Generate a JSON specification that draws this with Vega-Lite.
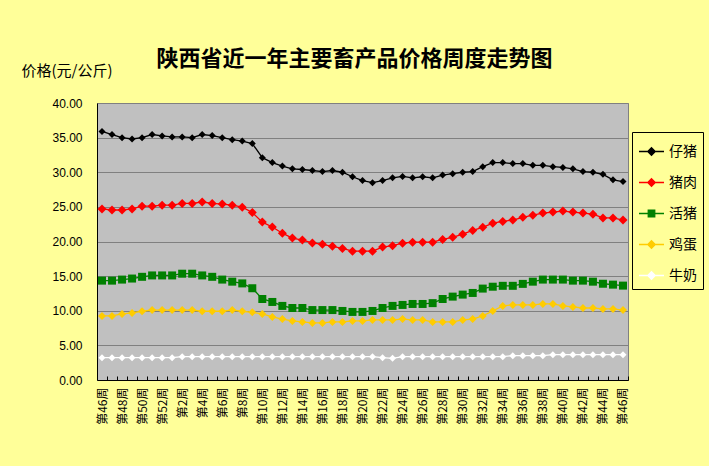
{
  "$schema": "https://vega.github.io/schema/vega-lite/v6.json",
  "autosize": "none",
  "width": 531,
  "height": 277,
  "padding": {"left": 97, "top": 103, "right": 81, "bottom": 86},
  "background": "#FFFF99",
  "config": {
    "font": "Noto Sans CJK SC",
    "view": {"fill": "#C0C0C0", "stroke": "#808080", "strokeWidth": 1}
  },
  "title": {
    "text": "陕西省近一年主要畜产品价格周度走势图",
    "fontSize": 22,
    "fontWeight": "bold",
    "color": "black",
    "anchor": "middle",
    "dx": -8,
    "offset": -8
  },
  "data": {
    "values": [
      {"idx":0,"product":"仔猪","price":35.9},{"idx":1,"product":"仔猪","price":35.45},{"idx":2,"product":"仔猪","price":35.0},{"idx":3,"product":"仔猪","price":34.8},{"idx":4,"product":"仔猪","price":35.0},{"idx":5,"product":"仔猪","price":35.45},{"idx":6,"product":"仔猪","price":35.25},{"idx":7,"product":"仔猪","price":35.1},{"idx":8,"product":"仔猪","price":35.1},{"idx":9,"product":"仔猪","price":35.0},{"idx":10,"product":"仔猪","price":35.45},{"idx":11,"product":"仔猪","price":35.3},{"idx":12,"product":"仔猪","price":35.0},{"idx":13,"product":"仔猪","price":34.7},{"idx":14,"product":"仔猪","price":34.5},{"idx":15,"product":"仔猪","price":34.15},{"idx":16,"product":"仔猪","price":32.1},{"idx":17,"product":"仔猪","price":31.4},{"idx":18,"product":"仔猪","price":30.9},{"idx":19,"product":"仔猪","price":30.5},{"idx":20,"product":"仔猪","price":30.4},{"idx":21,"product":"仔猪","price":30.25},{"idx":22,"product":"仔猪","price":30.1},{"idx":23,"product":"仔猪","price":30.25},{"idx":24,"product":"仔猪","price":30.0},{"idx":25,"product":"仔猪","price":29.35},{"idx":26,"product":"仔猪","price":28.8},{"idx":27,"product":"仔猪","price":28.5},{"idx":28,"product":"仔猪","price":28.8},{"idx":29,"product":"仔猪","price":29.2},{"idx":30,"product":"仔猪","price":29.4},{"idx":31,"product":"仔猪","price":29.2},{"idx":32,"product":"仔猪","price":29.35},{"idx":33,"product":"仔猪","price":29.2},{"idx":34,"product":"仔猪","price":29.6},{"idx":35,"product":"仔猪","price":29.8},{"idx":36,"product":"仔猪","price":30.0},{"idx":37,"product":"仔猪","price":30.1},{"idx":38,"product":"仔猪","price":30.8},{"idx":39,"product":"仔猪","price":31.4},{"idx":40,"product":"仔猪","price":31.4},{"idx":41,"product":"仔猪","price":31.25},{"idx":42,"product":"仔猪","price":31.25},{"idx":43,"product":"仔猪","price":31.0},{"idx":44,"product":"仔猪","price":31.0},{"idx":45,"product":"仔猪","price":30.8},{"idx":46,"product":"仔猪","price":30.7},{"idx":47,"product":"仔猪","price":30.5},{"idx":48,"product":"仔猪","price":30.1},{"idx":49,"product":"仔猪","price":30.0},{"idx":50,"product":"仔猪","price":29.7},{"idx":51,"product":"仔猪","price":28.9},{"idx":52,"product":"仔猪","price":28.65},
      {"idx":0,"product":"猪肉","price":24.7},{"idx":1,"product":"猪肉","price":24.55},{"idx":2,"product":"猪肉","price":24.55},{"idx":3,"product":"猪肉","price":24.7},{"idx":4,"product":"猪肉","price":25.1},{"idx":5,"product":"猪肉","price":25.1},{"idx":6,"product":"猪肉","price":25.25},{"idx":7,"product":"猪肉","price":25.25},{"idx":8,"product":"猪肉","price":25.5},{"idx":9,"product":"猪肉","price":25.5},{"idx":10,"product":"猪肉","price":25.7},{"idx":11,"product":"猪肉","price":25.5},{"idx":12,"product":"猪肉","price":25.4},{"idx":13,"product":"猪肉","price":25.25},{"idx":14,"product":"猪肉","price":24.95},{"idx":15,"product":"猪肉","price":24.2},{"idx":16,"product":"猪肉","price":22.8},{"idx":17,"product":"猪肉","price":22.1},{"idx":18,"product":"猪肉","price":21.2},{"idx":19,"product":"猪肉","price":20.5},{"idx":20,"product":"猪肉","price":20.2},{"idx":21,"product":"猪肉","price":19.8},{"idx":22,"product":"猪肉","price":19.6},{"idx":23,"product":"猪肉","price":19.3},{"idx":24,"product":"猪肉","price":19.0},{"idx":25,"product":"猪肉","price":18.6},{"idx":26,"product":"猪肉","price":18.6},{"idx":27,"product":"猪肉","price":18.6},{"idx":28,"product":"猪肉","price":19.2},{"idx":29,"product":"猪肉","price":19.4},{"idx":30,"product":"猪肉","price":19.75},{"idx":31,"product":"猪肉","price":19.9},{"idx":32,"product":"猪肉","price":19.9},{"idx":33,"product":"猪肉","price":19.9},{"idx":34,"product":"猪肉","price":20.3},{"idx":35,"product":"猪肉","price":20.6},{"idx":36,"product":"猪肉","price":21.05},{"idx":37,"product":"猪肉","price":21.6},{"idx":38,"product":"猪肉","price":22.05},{"idx":39,"product":"猪肉","price":22.65},{"idx":40,"product":"猪肉","price":22.9},{"idx":41,"product":"猪肉","price":23.1},{"idx":42,"product":"猪肉","price":23.5},{"idx":43,"product":"猪肉","price":23.8},{"idx":44,"product":"猪肉","price":24.1},{"idx":45,"product":"猪肉","price":24.25},{"idx":46,"product":"猪肉","price":24.4},{"idx":47,"product":"猪肉","price":24.25},{"idx":48,"product":"猪肉","price":24.1},{"idx":49,"product":"猪肉","price":23.95},{"idx":50,"product":"猪肉","price":23.4},{"idx":51,"product":"猪肉","price":23.4},{"idx":52,"product":"猪肉","price":23.1},
      {"idx":0,"product":"活猪","price":14.35},{"idx":1,"product":"活猪","price":14.35},{"idx":2,"product":"活猪","price":14.5},{"idx":3,"product":"活猪","price":14.65},{"idx":4,"product":"活猪","price":14.9},{"idx":5,"product":"活猪","price":15.1},{"idx":6,"product":"活猪","price":15.1},{"idx":7,"product":"活猪","price":15.1},{"idx":8,"product":"活猪","price":15.35},{"idx":9,"product":"活猪","price":15.35},{"idx":10,"product":"活猪","price":15.1},{"idx":11,"product":"活猪","price":14.9},{"idx":12,"product":"活猪","price":14.5},{"idx":13,"product":"活猪","price":14.2},{"idx":14,"product":"活猪","price":13.95},{"idx":15,"product":"活猪","price":13.25},{"idx":16,"product":"活猪","price":11.7},{"idx":17,"product":"活猪","price":11.27},{"idx":18,"product":"活猪","price":10.7},{"idx":19,"product":"活猪","price":10.4},{"idx":20,"product":"活猪","price":10.4},{"idx":21,"product":"活猪","price":10.1},{"idx":22,"product":"活猪","price":10.1},{"idx":23,"product":"活猪","price":10.1},{"idx":24,"product":"活猪","price":9.97},{"idx":25,"product":"活猪","price":9.83},{"idx":26,"product":"活猪","price":9.83},{"idx":27,"product":"活猪","price":9.97},{"idx":28,"product":"活猪","price":10.4},{"idx":29,"product":"活猪","price":10.7},{"idx":30,"product":"活猪","price":10.84},{"idx":31,"product":"活猪","price":10.98},{"idx":32,"product":"活猪","price":10.98},{"idx":33,"product":"活猪","price":11.1},{"idx":34,"product":"活猪","price":11.7},{"idx":35,"product":"活猪","price":12.04},{"idx":36,"product":"活猪","price":12.33},{"idx":37,"product":"活猪","price":12.57},{"idx":38,"product":"活猪","price":13.2},{"idx":39,"product":"活猪","price":13.47},{"idx":40,"product":"活猪","price":13.6},{"idx":41,"product":"活猪","price":13.6},{"idx":42,"product":"活猪","price":13.88},{"idx":43,"product":"活猪","price":14.2},{"idx":44,"product":"活猪","price":14.5},{"idx":45,"product":"活猪","price":14.5},{"idx":46,"product":"活猪","price":14.5},{"idx":47,"product":"活猪","price":14.35},{"idx":48,"product":"活猪","price":14.35},{"idx":49,"product":"活猪","price":14.2},{"idx":50,"product":"活猪","price":13.9},{"idx":51,"product":"活猪","price":13.77},{"idx":52,"product":"活猪","price":13.63},
      {"idx":0,"product":"鸡蛋","price":9.25},{"idx":1,"product":"鸡蛋","price":9.25},{"idx":2,"product":"鸡蛋","price":9.54},{"idx":3,"product":"鸡蛋","price":9.68},{"idx":4,"product":"鸡蛋","price":9.93},{"idx":5,"product":"鸡蛋","price":10.1},{"idx":6,"product":"鸡蛋","price":10.1},{"idx":7,"product":"鸡蛋","price":10.1},{"idx":8,"product":"鸡蛋","price":10.1},{"idx":9,"product":"鸡蛋","price":10.1},{"idx":10,"product":"鸡蛋","price":9.93},{"idx":11,"product":"鸡蛋","price":9.93},{"idx":12,"product":"鸡蛋","price":9.93},{"idx":13,"product":"鸡蛋","price":10.1},{"idx":14,"product":"鸡蛋","price":9.93},{"idx":15,"product":"鸡蛋","price":9.78},{"idx":16,"product":"鸡蛋","price":9.54},{"idx":17,"product":"鸡蛋","price":9.1},{"idx":18,"product":"鸡蛋","price":8.8},{"idx":19,"product":"鸡蛋","price":8.53},{"idx":20,"product":"鸡蛋","price":8.38},{"idx":21,"product":"鸡蛋","price":8.24},{"idx":22,"product":"鸡蛋","price":8.24},{"idx":23,"product":"鸡蛋","price":8.38},{"idx":24,"product":"鸡蛋","price":8.38},{"idx":25,"product":"鸡蛋","price":8.53},{"idx":26,"product":"鸡蛋","price":8.53},{"idx":27,"product":"鸡蛋","price":8.67},{"idx":28,"product":"鸡蛋","price":8.67},{"idx":29,"product":"鸡蛋","price":8.67},{"idx":30,"product":"鸡蛋","price":8.8},{"idx":31,"product":"鸡蛋","price":8.67},{"idx":32,"product":"鸡蛋","price":8.67},{"idx":33,"product":"鸡蛋","price":8.38},{"idx":34,"product":"鸡蛋","price":8.38},{"idx":35,"product":"鸡蛋","price":8.38},{"idx":36,"product":"鸡蛋","price":8.67},{"idx":37,"product":"鸡蛋","price":8.8},{"idx":38,"product":"鸡蛋","price":9.25},{"idx":39,"product":"鸡蛋","price":9.97},{"idx":40,"product":"鸡蛋","price":10.7},{"idx":41,"product":"鸡蛋","price":10.84},{"idx":42,"product":"鸡蛋","price":10.84},{"idx":43,"product":"鸡蛋","price":10.84},{"idx":44,"product":"鸡蛋","price":10.98},{"idx":45,"product":"鸡蛋","price":10.98},{"idx":46,"product":"鸡蛋","price":10.7},{"idx":47,"product":"鸡蛋","price":10.55},{"idx":48,"product":"鸡蛋","price":10.4},{"idx":49,"product":"鸡蛋","price":10.4},{"idx":50,"product":"鸡蛋","price":10.26},{"idx":51,"product":"鸡蛋","price":10.26},{"idx":52,"product":"鸡蛋","price":10.1},
      {"idx":0,"product":"牛奶","price":3.22},{"idx":1,"product":"牛奶","price":3.22},{"idx":2,"product":"牛奶","price":3.22},{"idx":3,"product":"牛奶","price":3.22},{"idx":4,"product":"牛奶","price":3.22},{"idx":5,"product":"牛奶","price":3.22},{"idx":6,"product":"牛奶","price":3.22},{"idx":7,"product":"牛奶","price":3.22},{"idx":8,"product":"牛奶","price":3.37},{"idx":9,"product":"牛奶","price":3.37},{"idx":10,"product":"牛奶","price":3.37},{"idx":11,"product":"牛奶","price":3.37},{"idx":12,"product":"牛奶","price":3.37},{"idx":13,"product":"牛奶","price":3.37},{"idx":14,"product":"牛奶","price":3.37},{"idx":15,"product":"牛奶","price":3.37},{"idx":16,"product":"牛奶","price":3.37},{"idx":17,"product":"牛奶","price":3.37},{"idx":18,"product":"牛奶","price":3.37},{"idx":19,"product":"牛奶","price":3.37},{"idx":20,"product":"牛奶","price":3.37},{"idx":21,"product":"牛奶","price":3.37},{"idx":22,"product":"牛奶","price":3.37},{"idx":23,"product":"牛奶","price":3.37},{"idx":24,"product":"牛奶","price":3.37},{"idx":25,"product":"牛奶","price":3.37},{"idx":26,"product":"牛奶","price":3.37},{"idx":27,"product":"牛奶","price":3.37},{"idx":28,"product":"牛奶","price":3.22},{"idx":29,"product":"牛奶","price":3.13},{"idx":30,"product":"牛奶","price":3.37},{"idx":31,"product":"牛奶","price":3.37},{"idx":32,"product":"牛奶","price":3.37},{"idx":33,"product":"牛奶","price":3.37},{"idx":34,"product":"牛奶","price":3.37},{"idx":35,"product":"牛奶","price":3.37},{"idx":36,"product":"牛奶","price":3.37},{"idx":37,"product":"牛奶","price":3.37},{"idx":38,"product":"牛奶","price":3.37},{"idx":39,"product":"牛奶","price":3.37},{"idx":40,"product":"牛奶","price":3.37},{"idx":41,"product":"牛奶","price":3.51},{"idx":42,"product":"牛奶","price":3.51},{"idx":43,"product":"牛奶","price":3.51},{"idx":44,"product":"牛奶","price":3.51},{"idx":45,"product":"牛奶","price":3.66},{"idx":46,"product":"牛奶","price":3.66},{"idx":47,"product":"牛奶","price":3.66},{"idx":48,"product":"牛奶","price":3.66},{"idx":49,"product":"牛奶","price":3.66},{"idx":50,"product":"牛奶","price":3.66},{"idx":51,"product":"牛奶","price":3.66},{"idx":52,"product":"牛奶","price":3.66}
    ]
  },
  "encoding": {
    "x": {
      "field": "idx",
      "type": "ordinal",
      "scale": {"type": "point", "padding": 0.5},
      "axis": {
        "title": null,
        "labelAngle": -90,
        "labelFontSize": 12,
        "labelColor": "black",
        "labelOverlap": false,
        "labelExpr": "datum.value % 2 == 0 ? '第' + (datum.value < 7 ? datum.value + 46 : datum.value - 6) + '周' : ''",
        "domainColor": "black",
        "tickColor": "black",
        "tickSize": -4,
        "tickOffset": 5,
        "labelOffset": -5,
        "labelPadding": 11
      }
    },
    "y": {
      "field": "price",
      "type": "quantitative",
      "scale": {"domain": [0, 40], "nice": false},
      "axis": {
        "title": "价格(元/公斤)",
        "titleAngle": 0,
        "titleAlign": "left",
        "titleBaseline": "middle",
        "titleX": -76,
        "titleY": -33,
        "titleFontSize": 15,
        "titleFontWeight": "normal",
        "titleColor": "black",
        "values": [0, 5, 10, 15, 20, 25, 30, 35, 40],
        "format": ".2f",
        "labelFont": "Liberation Sans",
        "labelFontSize": 12,
        "labelColor": "black",
        "labelPadding": 15,
        "ticks": false,
        "domainColor": "black",
        "grid": true,
        "gridColor": "#808080",
        "gridWidth": 1
      }
    },
    "color": {
      "field": "product",
      "type": "nominal",
      "scale": {
        "domain": ["仔猪", "猪肉", "活猪", "鸡蛋", "牛奶"],
        "range": ["#000000", "#FF0000", "#008000", "#FFCC00", "#FFFFFF"]
      },
      "legend": {
        "title": null,
        "orient": "none",
        "legendX": 535,
        "legendY": 29,
        "fillColor": "#FFFF99",
        "strokeColor": "black",
        "padding": 6,
        "rowPadding": 10,
        "symbolSize": 625,
        "symbolOpacity": 1,
        "symbolStrokeWidth": 1.3,
        "labelFontSize": 14,
        "labelColor": "black",
        "labelOffset": 4,
        "encode": {
          "symbols": {
            "update": {
              "shape": {"signal": "datum.value === '活猪' ? 'M-1,0L1,0M-0.26,-0.26L0.26,-0.26L0.26,0.26L-0.26,0.26Z' : 'M-1,0L1,0M0,-0.3L0.3,0L0,0.3L-0.3,0Z'"},
              "fill": {"signal": "scale('color', datum.value)"},
              "stroke": {"signal": "scale('color', datum.value)"},
              "strokeWidth": {"value": 1.3},
              "size": {"value": 625}
            }
          }
        }
      }
    }
  },
  "layer": [
    {
      "mark": {"type": "line", "strokeWidth": 1.3}
    },
    {
      "transform": [{"filter": {"field": "product", "oneOf": ["仔猪", "牛奶"]}}],
      "mark": {"type": "point", "filled": true, "opacity": 1, "shape": "diamond", "size": 49}
    },
    {
      "transform": [{"filter": {"field": "product", "equal": "猪肉"}}],
      "mark": {"type": "point", "filled": true, "opacity": 1, "shape": "diamond", "size": 81}
    },
    {
      "transform": [{"filter": {"field": "product", "equal": "鸡蛋"}}],
      "mark": {"type": "point", "filled": true, "opacity": 1, "shape": "diamond", "size": 64}
    },
    {
      "transform": [{"filter": {"field": "product", "equal": "活猪"}}],
      "mark": {"type": "point", "filled": true, "opacity": 1, "shape": "square", "size": 64}
    }
  ]
}
